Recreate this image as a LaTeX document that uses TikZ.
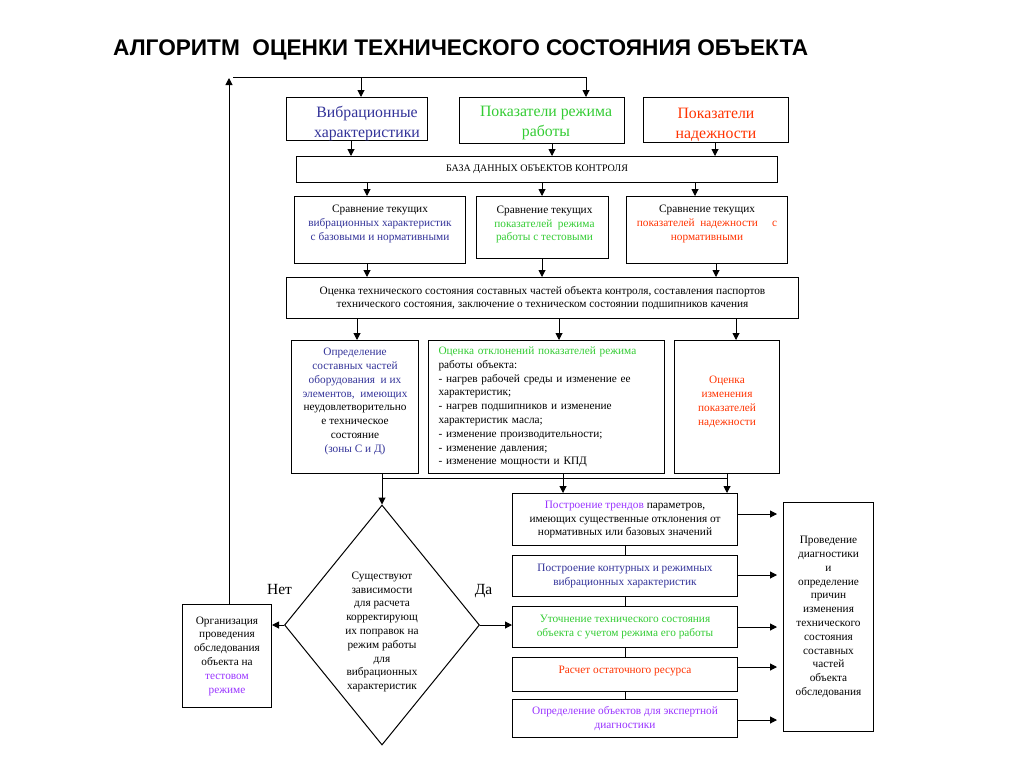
\documentclass[tikz,border=0pt]{standalone}
\usepackage{fontspec}
\setmainfont{Liberation Serif}
\newfontfamily\titlefont{Liberation Sans}
\usetikzlibrary{arrows.meta,shapes.geometric}
\definecolor{cblue}{RGB}{51,51,153}
\definecolor{cgreen}{RGB}{51,204,51}
\definecolor{cred}{RGB}{255,51,0}
\definecolor{cviolet}{RGB}{153,51,255}
\newcommand\myfs[2]{\fontsize{#1}{#2}\selectfont}
\begin{document}
\begin{tikzpicture}[x=1pt,y=-1pt,
  box/.style={draw, line width=1pt, inner sep=0pt, align=center, anchor=north west, font=\myfs{11.3}{13.8}},
  txt/.style={inner sep=0pt, align=center, font=\myfs{11.3}{13.8}},
  big/.style={inner sep=0pt, align=center, font=\myfs{15.8}{20}},
  arr/.style={line width=1pt, -{Triangle[length=7pt,width=7pt]}},
  ln/.style={line width=1pt}]
\useasboundingbox[fill=white] (0,0) rectangle (1024,768);

\node[anchor=west, inner sep=0pt] (title) at (113,50) {\resizebox{695pt}{!}{\titlefont\bfseries\myfs{25}{28}АЛГОРИТМ\ \ ОЦЕНКИ ТЕХНИЧЕСКОГО СОСТОЯНИЯ ОБЪЕКТА}};

% top row
\node[box, minimum width=141pt, minimum height=43pt] (vib) at (286,97) {};
\node[big, text=cblue] (vibt) at ([xshift=10pt,yshift=-4.5pt]vib.center) {Вибрационные\\характеристики};
\node[box, minimum width=165pt, minimum height=46pt] (rej) at (459,97) {};
\node[big, text=cgreen] (rejt) at ([xshift=4pt,yshift=-3pt]rej.center) {Показатели режима\\работы};
\node[box, minimum width=145pt, minimum height=45pt] (nad) at (643,97) {};
\node[big, text=cred] (nadt) at ([yshift=-5pt]nad.center) {Показатели\\надежности};
\node[box, minimum width=481pt, minimum height=26pt, font=\myfs{10}{12}] (baza) at (296,156) {БАЗА ДАННЫХ ОБЪЕКТОВ КОНТРОЛЯ};

\draw[arr] (351,0 |- vib.south) -- (351,0 |- baza.north);
\draw[arr] (552,0 |- rej.south) -- (552,0 |- baza.north);
\draw[arr] (715,0 |- nad.south) -- (715,0 |- baza.north);

% comparison row
\node[box, minimum width=171pt, minimum height=67pt] (s1) at (294,196) {};
\node[txt] (s1t) at ([yshift=6pt]s1.center) {Сравнение текущих\\\textcolor{cblue}{вибрационных характеристик}\\\textcolor{cblue}{с базовыми и нормативными}};
\node[box, minimum width=132pt, minimum height=62pt] (s2) at (476,196) {};
\node[txt] (s2t) at ([xshift=2pt,yshift=3pt]s2.center) {Сравнение текущих\\\textcolor{cgreen}{показателей\ \ режима}\\\textcolor{cgreen}{работы с тестовыми}};
\node[box, minimum width=161pt, minimum height=67pt] (s3) at (626,196) {};
\node[txt] (s3t) at ([yshift=6pt]s3.center) {Сравнение текущих\\\textcolor{cred}{показателей\ \ надежности\ \ \ \ \ с}\\\textcolor{cred}{нормативными}};

\draw[arr] (367,0 |- baza.south) -- (367,0 |- s1.north);
\draw[arr] (542,0 |- baza.south) -- (542,0 |- s2.north);
\draw[arr] (695,0 |- baza.south) -- (695,0 |- s3.north);

% assessment
\node[box, minimum width=512pt, minimum height=41pt] (oc) at (286,277) {Оценка технического состояния составных частей объекта контроля, составления паспортов\\технического состояния, заключение о техническом состоянии подшипников качения};

\draw[arr] (367,0 |- s1.south) -- (367,0 |- oc.north);
\draw[arr] (542,0 |- s2.south) -- (542,0 |- oc.north);
\draw[arr] (716,0 |- s3.south) -- (716,0 |- oc.north);

% row 4
\node[box, minimum width=127pt, minimum height=133pt] (d1) at (291,340) {};
\node[txt] (d1t) at ([yshift=5.5pt]d1.center) {\textcolor{cblue}{Определение}\\\textcolor{cblue}{составных частей}\\\textcolor{cblue}{оборудования\ \ и их}\\\textcolor{cblue}{элементов,\ \ имеющих}\\неудовлетворительно\\е техническое\\состояние\\\textcolor{cblue}{(зоны С и Д)}};
\node[box, minimum height=133pt, text width=216pt, inner xsep=10pt, align=left] (d2) at (428,340) {\textcolor{cgreen}{Оценка отклонений показателей режима}\\работы объекта:\\- нагрев рабочей среды и изменение ее\\характеристик;\\- нагрев подшипников и изменение\\характеристик масла;\\- изменение производительности;\\- изменение давления;\\- изменение мощности и КПД};
\node[box, minimum width=105pt, minimum height=133pt] (d3) at (674,340) {};
\node[txt, text=cred] (d3t) at ([yshift=5pt]d3.center) {Оценка\\изменения\\показателей\\надежности};

\draw[arr] (357,0 |- oc.south) -- (357,0 |- d1.north);
\draw[arr] (559,0 |- oc.south) -- (559,0 |- d2.north);
\draw[arr] (736,0 |- oc.south) -- (736,0 |- d3.north);

% decision
\node[draw, diamond, line width=1pt, inner sep=0pt, minimum width=195pt, minimum height=240pt] (dia) at (382,625) {};
\node[txt] (diat) at (382,632) {Существуют\\зависимости\\для расчета\\корректирующ\\их поправок на\\режим работы\\для\\вибрационных\\характеристик};
\node[font=\myfs{15.5}{18}, inner sep=0pt] (net) at (279.5,589) {Нет};
\node[font=\myfs{15.5}{18}, inner sep=0pt] (da) at (483.5,591) {Да};

\node[box, minimum width=89pt, minimum height=103pt] (org) at (182,604) {Организация\\проведения\\обследования\\объекта на\\\textcolor{cviolet}{тестовом}\\\textcolor{cviolet}{режиме}};

% right column
\node[box, minimum width=225pt, minimum height=52pt] (t1) at (512,493) {\textcolor{cviolet}{Построение трендов} параметров,\\имеющих существенные отклонения от\\нормативных или базовых значений};
\node[box, minimum width=225pt, minimum height=41pt, text=cblue] (t2) at (512,555) {Построение контурных и режимных\\вибрационных характеристик};
\node[box, minimum width=225pt, minimum height=41pt, text=cgreen] (t3) at (512,606) {Уточнение технического состояния\\объекта с учетом режима его работы};
\node[box, minimum width=225pt, minimum height=34pt] (t4) at (512,657) {};
\node[txt, text=cred] (t4t) at ([yshift=3.5pt]t4.center) {Расчет остаточного ресурса};
\node[box, minimum width=225pt, minimum height=38pt, text=cviolet] (t5) at (512,699) {Определение объектов для экспертной\\диагностики};

\node[box, minimum width=90pt, minimum height=229pt] (pd) at (783,502) {Проведение\\диагностики\\и\\определение\\причин\\изменения\\технического\\состояния\\составных\\частей\\объекта\\обследования};

% bus from row 4
\coordinate (b1) at (382,478);
\coordinate (b2) at (563,478);
\coordinate (b3) at (727,478);
\draw[ln] (b1 |- d1.south) -- (b1) -- (b3) -- (b3 |- d3.south);
\draw[ln] (b2 |- d2.south) -- (b2);
\draw[arr] (b1) -- (dia.north);
\draw[arr] (b2) -- (b2 |- t1.north);
\draw[arr] (b3) -- (b3 |- t1.north);

% decision outputs
\draw[arr] (dia.west) -- (org.east |- dia.west);
\draw[arr] (dia.east) -- (t3.west |- dia.east);

% feedback loop
\coordinate (fbtop) at (229,78);
\coordinate (fbl) at (233,77);
\coordinate (fbr) at (586,77);
\draw[arr] (fbtop |- org.north) -- (fbtop);
\draw[ln] (fbl) -- (fbr);
\draw[arr] (fbr) -- (fbr |- rej.north);
\draw[arr] (361,77) -- (361,0 |- vib.north);

% column links
\draw[ln] (t1.south) -- (t2.north);
\draw[ln] (t2.south) -- (t3.north);
\draw[ln] (t3.south) -- (t4.north);
\draw[ln] (t4.south) -- (t5.north);

% to diagnostics box
\draw[arr, shorten >=6pt] (t1.east |- 0,514) -- (pd.west |- 0,514);
\draw[arr, shorten >=6pt] (t2.east |- 0,575) -- (pd.west |- 0,575);
\draw[arr, shorten >=6pt] (t3.east |- 0,627) -- (pd.west |- 0,627);
\draw[arr, shorten >=6pt] (t4.east |- 0,667) -- (pd.west |- 0,667);
\draw[arr, shorten >=6pt] (t5.east |- 0,720) -- (pd.west |- 0,720);
\end{tikzpicture}
\end{document}
